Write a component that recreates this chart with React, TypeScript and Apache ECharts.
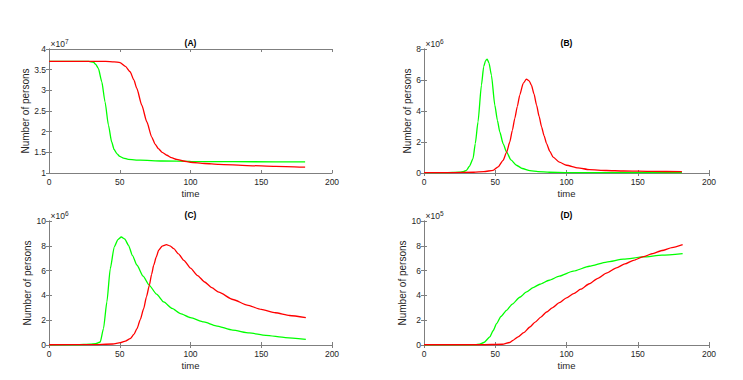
import React, { useEffect, useRef } from "react";
import * as echarts from "echarts";

// ---- Panel (A) values (x10^7) ----
const tGreenA = [0, 15, 28, 31.4, 33, 34.9, 37.3, 39.6, 42, 44.3, 46, 47.9, 50, 52.6, 56, 64.4, 80, 100, 130, 160, 181];
const greenA = [3.7, 3.7, 3.7, 3.68, 3.63, 3.53, 3.21, 2.72, 2.16, 1.75, 1.57, 1.47, 1.4, 1.36, 1.33, 1.31, 1.29, 1.28, 1.275, 1.27, 1.27];
const tRedA = [0, 20, 40, 46, 50.2, 54, 57.3, 60, 62, 65.6, 69.1, 72.6, 75, 77.3, 80, 83.3, 86.5, 90.3, 95, 100, 110, 120, 140, 160, 181];
const redA = [3.7, 3.7, 3.7, 3.69, 3.67, 3.58, 3.45, 3.25, 3.05, 2.64, 2.24, 1.87, 1.7, 1.59, 1.5, 1.43, 1.37, 1.33, 1.29, 1.26, 1.23, 1.21, 1.18, 1.16, 1.14];

// ---- Panel (B) values (x10^6) ----
const tGreenB = [0, 15, 25, 28, 29.8, 32, 34.4, 36, 37.9, 40.3, 41.9, 43.2, 44.3, 45.6, 47.3, 49.7, 51.5, 53.2, 55.5, 57.9, 61, 64.9, 69, 74.3, 80, 88, 100, 130, 181];
const greenB = [0.02, 0.02, 0.05, 0.1, 0.17, 0.45, 0.93, 1.9, 3.3, 5.67, 6.86, 7.25, 7.35, 7.1, 6.32, 4.38, 3.4, 2.65, 1.9, 1.36, 0.85, 0.5, 0.29, 0.15, 0.09, 0.05, 0.03, 0.02, 0.02];
const tRedB = [0, 20, 35, 42, 48.5, 52, 55.5, 58, 60.2, 62, 63.7, 65.5, 67.2, 69.6, 71.9, 73.8, 75.4, 77.2, 79, 80.8, 82.5, 84.3, 86, 88.3, 90.6, 95, 100, 108, 116, 128, 140, 160, 181];
const redB = [0.03, 0.03, 0.05, 0.09, 0.17, 0.4, 0.82, 1.35, 2.0, 2.75, 3.52, 4.3, 5.03, 5.78, 6.06, 5.95, 5.67, 5.1, 4.38, 3.65, 2.98, 2.4, 1.9, 1.4, 1.03, 0.7, 0.5, 0.33, 0.22, 0.16, 0.13, 0.1, 0.09];

// ---- Panel (C) values (x10^6) ----
const tGreenC = [0, 20, 29.1, 33, 36.2, 38.5, 40.9, 43.3, 46.1, 48.7, 51.1, 53.5, 56.2, 59, 62.2, 66.5, 70.9, 76, 81.1, 87, 92.9, 100, 109.4, 118, 129.8, 141.5, 153.3, 167, 181.5];
const greenC = [0.01, 0.02, 0.06, 0.1, 0.24, 1.32, 3.47, 6.16, 7.9, 8.5, 8.71, 8.55, 8.04, 7.2, 6.43, 5.55, 4.81, 4.1, 3.47, 2.95, 2.53, 2.2, 1.86, 1.55, 1.2, 0.97, 0.78, 0.6, 0.46];
const tRedC = [0, 30, 45, 50.4, 54, 57.4, 60, 62.2, 64.5, 66.9, 68.9, 70.9, 72.5, 74, 75.8, 77.5, 80, 83, 85.5, 88.2, 91.5, 95.3, 100, 105, 110, 115, 120, 130, 140, 150, 160, 170, 181.5];
const redC = [0.02, 0.03, 0.08, 0.19, 0.32, 0.51, 0.85, 1.32, 2.05, 2.93, 3.9, 4.81, 5.7, 6.43, 7.1, 7.64, 7.98, 8.09, 8.0, 7.77, 7.35, 6.83, 6.2, 5.6, 5.08, 4.63, 4.26, 3.67, 3.22, 2.87, 2.6, 2.38, 2.2];

// ---- Panel (D) values (x10^5) ----
const tGreenD = [0, 36, 39, 42, 46.2, 48.5, 50.9, 54, 57.9, 62, 67.2, 72, 76.6, 81.3, 87.8, 95, 104.7, 116, 128.1, 140, 153.9, 167, 181.5];
const greenD = [0.02, 0.02, 0.06, 0.2, 0.65, 1.15, 1.72, 2.3, 2.8, 3.3, 3.85, 4.28, 4.63, 4.9, 5.22, 5.55, 5.95, 6.35, 6.69, 6.92, 7.1, 7.24, 7.37];
const tRedD = [0, 40, 55, 60, 62.5, 66, 70, 74.3, 78, 82, 86, 90, 95, 100, 105, 110, 116, 122, 128, 135, 141, 147, 154, 160, 167, 174, 181.5];
const redD = [0.02, 0.02, 0.06, 0.2, 0.38, 0.65, 1.0, 1.45, 1.85, 2.25, 2.66, 3.0, 3.42, 3.8, 4.14, 4.5, 4.94, 5.38, 5.8, 6.22, 6.54, 6.83, 7.12, 7.36, 7.62, 7.86, 8.1];

// ---- Axis ticks ----
const xTicks = { min: 0, max: 200, interval: 50 };
const yTicksA = { min: 1, max: 4, interval: 0.5 };
const yTicksB = { min: 0, max: 8, interval: 2 };
const yTicksC = { min: 0, max: 10, interval: 2 };
const yTicksD = { min: 0, max: 10, interval: 2 };

const titles = ["(A)", "(B)", "(C)", "(D)"];
const exponents = ["7", "6", "6", "5"];
const xName = "time";
const yName = "Number of persons";

const zip = (t: number[], v: number[]) => t.map((x, i) => [x, v[i]]);

const FONT = "'Liberation Sans', Arial, Helvetica, sans-serif";
const AXIS_COLOR = "#7f7f7f";
const TEXT_COLOR = "#262626";
const GREEN = "#00ff00";
const RED = "#ff0000";

export default function App() {
  const ref = useRef<HTMLDivElement>(null);

  useEffect(() => {
    const chart = echarts.init(ref.current!, null, { renderer: "svg" });

    const layout = [
      { left: 49, top: 49, width: 283, height: 124, nameGap: 17 },
      { left: 424, top: 49, width: 285, height: 124, nameGap: 11.5 },
      { left: 49, top: 221, width: 283, height: 124, nameGap: 16 },
      { left: 424, top: 221, width: 285, height: 124, nameGap: 16 },
    ];
    const yTicks = [yTicksA, yTicksB, yTicksC, yTicksD];
    const seriesData = [
      [zip(tGreenA, greenA), zip(tRedA, redA)],
      [zip(tGreenB, greenB), zip(tRedB, redB)],
      [zip(tGreenC, greenC), zip(tRedC, redC)],
      [zip(tGreenD, greenD), zip(tRedD, redD)],
    ];

    const axisLine = { show: true, lineStyle: { color: AXIS_COLOR, width: 1 } };
    const axisTick = { show: true, inside: true, length: 3, lineStyle: { color: AXIS_COLOR, width: 1 } };

    const grid: any[] = [];
    const xAxis: any[] = [];
    const yAxis: any[] = [];
    const series: any[] = [];
    const graphic: any[] = [];

    layout.forEach((g, i) => {
      grid.push({ left: g.left, top: g.top, width: g.width, height: g.height, containLabel: false });
      xAxis.push({
        type: "value", gridIndex: i, position: "bottom", ...xTicks,
        axisLine, axisTick, splitLine: { show: false },
        axisLabel: { fontSize: 8.5, color: TEXT_COLOR, margin: 4, fontFamily: FONT },
        name: xName, nameLocation: "middle", nameGap: 15,
        nameTextStyle: { fontSize: 9.5, color: TEXT_COLOR, fontFamily: FONT },
      });
      xAxis.push({
        type: "value", gridIndex: i, position: "top", ...xTicks,
        axisLine, axisTick, splitLine: { show: false }, axisLabel: { show: false },
      });
      yAxis.push({
        type: "value", gridIndex: i, position: "left", ...yTicks[i],
        axisLine, axisTick, splitLine: { show: false },
        axisLabel: { fontSize: 8.5, color: TEXT_COLOR, margin: 3, fontFamily: FONT },
        name: yName, nameLocation: "middle", nameGap: g.nameGap,
        nameTextStyle: { fontSize: 10, color: TEXT_COLOR, fontFamily: FONT },
      });
      yAxis.push({
        type: "value", gridIndex: i, position: "right", ...yTicks[i],
        axisLine, axisTick, splitLine: { show: false }, axisLabel: { show: false },
      });

      [GREEN, RED].forEach((c, k) => {
        series.push({
          type: "line", xAxisIndex: i * 2, yAxisIndex: i * 2,
          data: seriesData[i][k], showSymbol: false, symbol: "none",
          smooth: 0.2, smoothMonotone: "x",
          lineStyle: { color: c, width: 1.3 }, itemStyle: { color: c },
        });
      });

      graphic.push({
        type: "text", x: g.left + g.width / 2, y: g.top - 6.5,
        style: { text: titles[i], font: `bold 8.5px ${FONT}`, fill: "#000", textAlign: "center", textVerticalAlign: "middle" },
      });
      graphic.push({
        type: "text", x: g.left + 1.5, y: g.top - 1,
        style: { text: "×10", font: `8.5px ${FONT}`, fill: TEXT_COLOR, textAlign: "left", textVerticalAlign: "bottom" },
      });
      graphic.push({
        type: "text", x: g.left + 16, y: g.top - 4.5,
        style: { text: exponents[i], font: `6.5px ${FONT}`, fill: TEXT_COLOR, textAlign: "left", textVerticalAlign: "bottom" },
      });
    });

    chart.setOption({
      animation: false,
      backgroundColor: "#ffffff",
      textStyle: { fontFamily: FONT },
      grid, xAxis, yAxis, series, graphic,
    });

    return () => chart.dispose();
  }, []);

  return (
    <div
      ref={ref}
      style={{ position: "fixed", left: 0, top: 0, width: 743, height: 380, background: "#fff" }}
    />
  );
}
